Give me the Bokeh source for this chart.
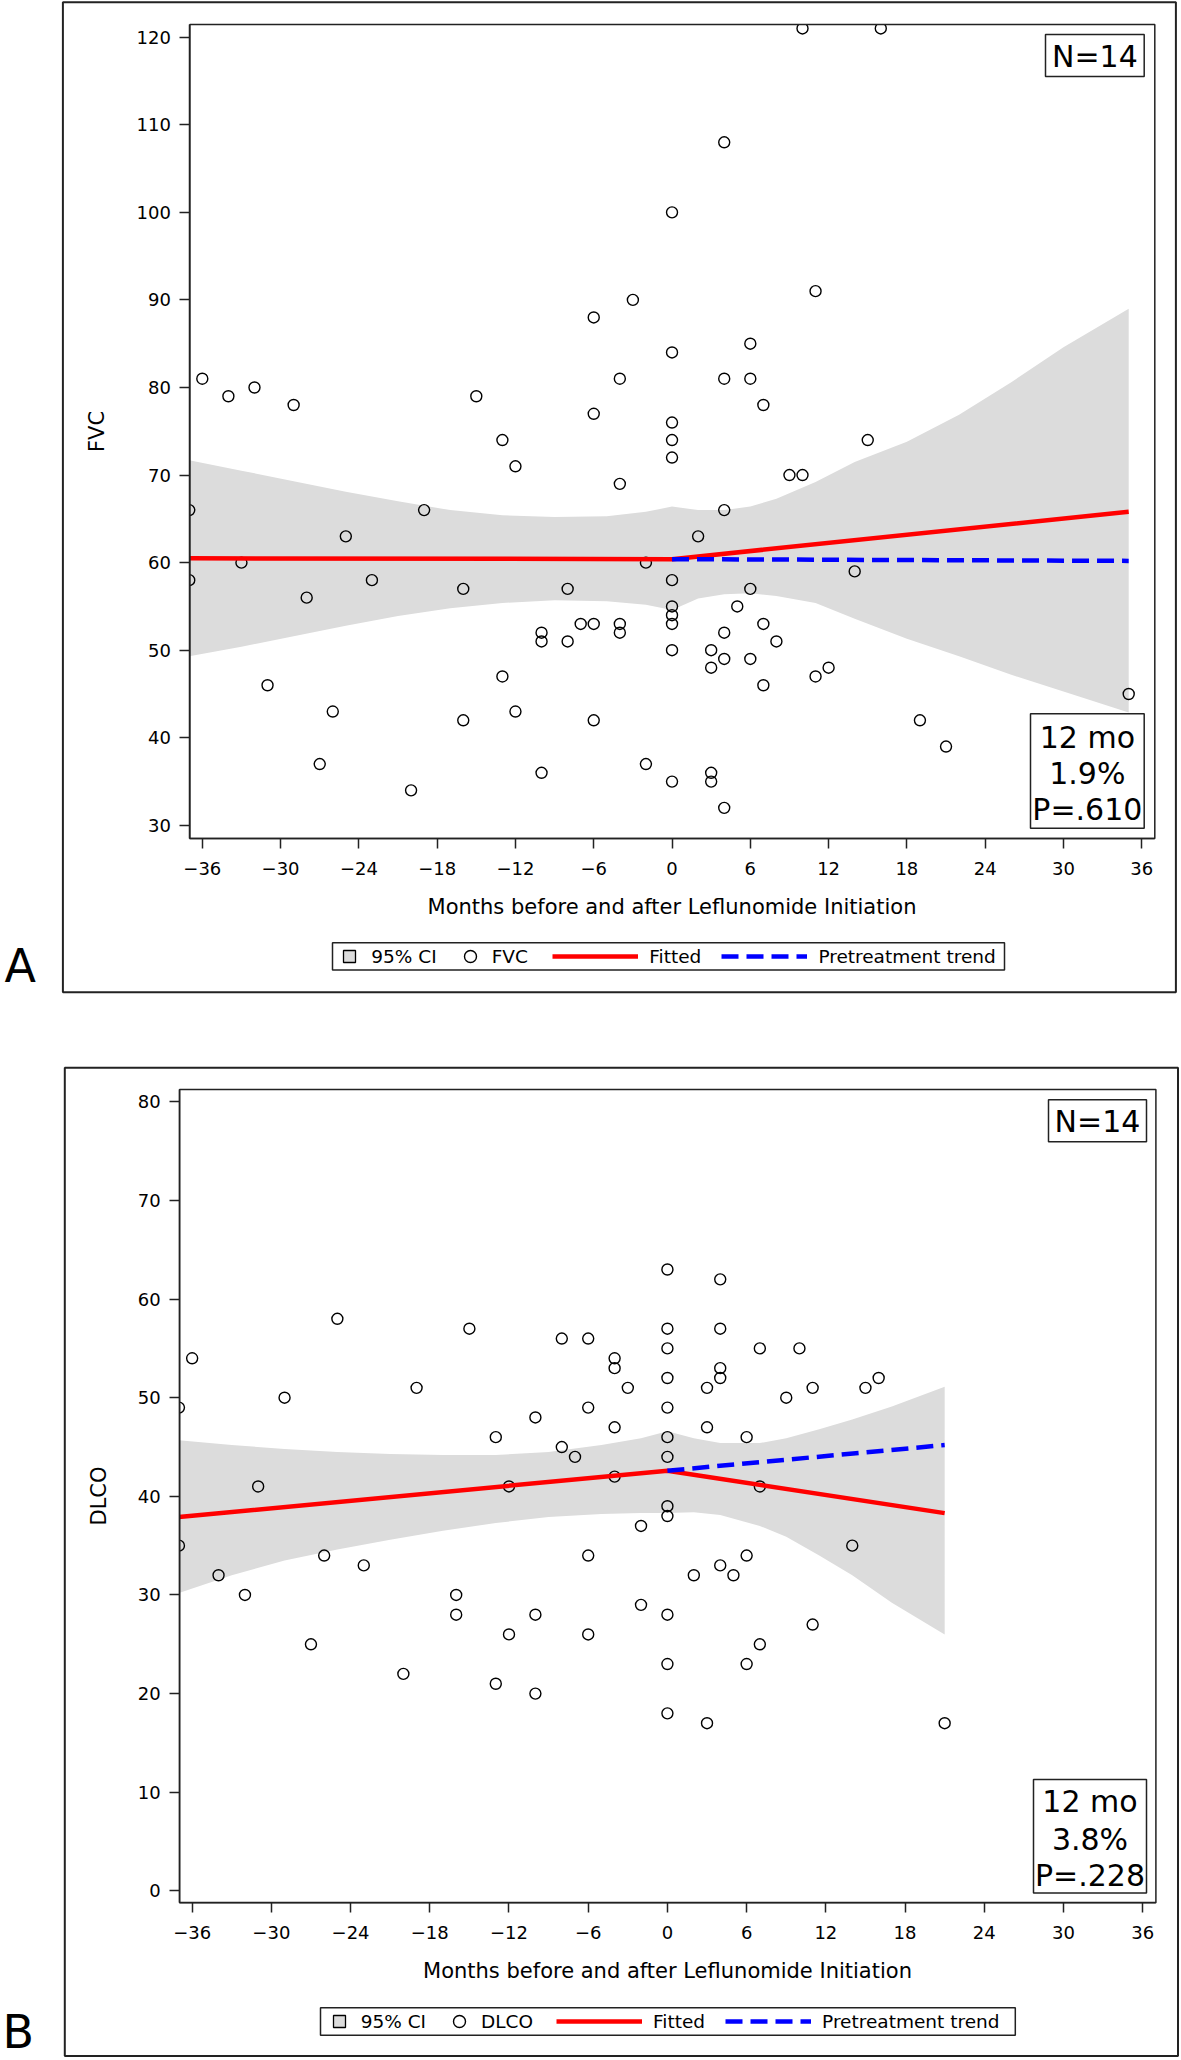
from bokeh.plotting import figure
from bokeh.models import Range1d, FixedTicker, Legend, LegendItem, Label, BoxAnnotation
from bokeh.layouts import column
from bokeh.embed import file_html
from bokeh.resources import INLINE

FONT = "DejaVu Sans"
INK = "#222222"
BAND = "#dcdcdc"

# ---------------- data ----------------
month_ticks = [-36, -30, -24, -18, -12, -6, 0, 6, 12, 18, 24, 30, 36]
fvc_ticks = [30, 40, 50, 60, 70, 80, 90, 100, 110, 120]
dlco_ticks = [0, 10, 20, 30, 40, 50, 60, 70, 80]

fvc_month = [-36, -34, -32, -29, -15, -13, -12, -6, -6, 10,
             16, 4, 0, 11, -3, 6, 0, -4, 4, 6,
             7, 0, 0, 15, 0, 9, 10, -4, -37, -37,
             -33, -25, -19, -28, -23, -16, -8, -7, -6, -10,
             -10, -8, -31, -13, -26, -12, -16, -6, -27, -10,
             -20, -4, -4, 4, 2, -2, 14, 0, 6, 5,
             0, 0, 0, 7, 4, 8, 0, 3, 4, 6,
             3, 12, 11, 7, 35, 19, 21, -2, 3, 3,
             0, 4]
fvc_value = [81, 79, 80, 78, 79, 74, 71, 88, 77, 121,
             121, 108, 100, 91, 90, 85, 84, 81, 81, 81,
             78, 76, 74, 74, 72, 70, 70, 69, 66, 58,
             60, 63, 66, 56, 58, 57, 57, 53, 53, 52,
             51, 51, 46, 47, 43, 43, 42, 42, 37, 36,
             34, 53, 52, 66, 63, 60, 59, 58, 57, 55,
             55, 54, 53, 53, 52, 51, 50, 50, 49, 49,
             48, 48, 47, 46, 45, 42, 39, 37, 36, 35,
             35, 32]

fvc_ci_month = [-37, -33, -29, -25, -21, -17, -13, -9, -5, -2, 0, 2, 4, 6, 8, 11, 14, 18, 22, 26, 30, 35]
fvc_ci_upper = [71.7, 70.5, 69.3, 68.1, 67.0, 66.0, 65.4, 65.2, 65.3, 65.8, 66.4, 66.0, 66.0, 66.4, 67.3, 69.2, 71.5, 73.8, 76.9, 80.6, 84.6, 89.0]
fvc_ci_lower = [49.3, 50.4, 51.6, 52.8, 53.9, 54.8, 55.4, 55.7, 55.6, 55.2, 54.6, 55.9, 56.4, 56.5, 56.2, 55.4, 53.6, 51.3, 49.3, 47.2, 45.3, 42.9]
fvc_fit_month = [-37, 0, 35]
fvc_fit = [60.5, 60.4, 65.8]
fvc_pre_month = [0, 35]
fvc_pre = [60.4, 60.2]

dlco_month = [-37, -36, -29, -25, -31, -19, -15, -8, -6, -6,
              -10, -13, -8, -7, -12, -37, -34, -32, -26, -23,
              -27, -20, -16, -16, -10, -12, -13, -10, -6, -6,
              0, 4, 0, 4, 0, 7, 10, -4, -4, 4,
              4, -3, 0, 3, 11, 15, 16, 9, 0, -4,
              3, 0, 6, 0, -4, 7, 0, 0, -2, 14,
              6, 4, 5, 2, -2, 0, 11, 7, 0, 6,
              0, 3, 21]
dlco_value = [49, 54, 50, 58, 41, 51, 57, 56, 56, 49,
              48, 46, 45, 44, 41, 35, 32, 30, 34, 33,
              25, 22, 30, 28, 28, 26, 21, 20, 34, 26,
              63, 62, 57, 57, 55, 55, 55, 54, 53, 53,
              52, 51, 52, 51, 51, 51, 52, 50, 49, 47,
              47, 46, 46, 44, 42, 41, 39, 38, 37, 35,
              34, 33, 32, 32, 29, 28, 27, 25, 23, 23,
              18, 17, 17]

dlco_ci_month = [-37, -33, -29, -25, -21, -17, -13, -9, -5, -2, 0, 2, 4, 7, 9, 11.5, 14, 17, 21]
dlco_ci_upper = [45.7, 45.2, 44.8, 44.5, 44.3, 44.2, 44.2, 44.5, 45.2, 45.9, 46.6, 45.9, 45.4, 45.4, 45.9, 46.8, 47.8, 49.1, 51.1]
dlco_ci_lower = [30.2, 32.0, 33.5, 34.6, 35.6, 36.5, 37.3, 37.9, 38.2, 38.3, 38.3, 38.4, 38.1, 37.0, 35.9, 34.0, 32.0, 29.2, 26.0]
dlco_fit_month = [-37, 0, 21]
dlco_fit = [37.9, 42.6, 38.3]
dlco_pre_month = [0, 21]
dlco_pre = [42.6, 45.2]

month_axis = (-36.95, 37.0)
fvc_axis = (28.5, 121.45)
dlco_axis = (-1.2, 81.25)

fvc_stats = ["12 mo", "1.9%", "P=.610"]
dlco_stats = ["12 mo", "3.8%", "P=.228"]
n_text = "N=14"
x_title = "Months before and after Leflunomide Initiation"

# ---------------- layout (canvas pixels, y downward) ----------------
W = 1181
GEOM_A = dict(H=1030, inner=(189.4, 1154.3, 24, 838), outer=(62.4, 1175.4, 1.7, 991.7),
              letter=(4, 981), lbox=(332, 1004, 942.3, 969.5), l1=334.3, l2=552.3, lcy=956,
              nbox=(1045, 1143.7, 34, 76), nbase=66,
              sbox=(1030, 1143.7, 713.3, 827.7), sbase=(746.7, 783.3, 819.3))
GEOM_B = dict(H=1030, inner=(179.1, 1155.4, 59, 872.2), outer=(64.3, 1177.5, 37.3, 1025.5),
              letter=(2, 1017), lbox=(320, 1014.8, 977.3, 1004.8), l1=323.7, l2=556, lcy=991,
              nbox=(1048, 1146, 69.3, 111.3), nbase=101.3,
              sbox=(1033, 1146, 749, 862.6), sbase=(781, 818.9, 855))


def build(letter, y_label, series_label, mx, my, cx, clo, chi, fx, fy, px, py,
          yr, yticks, stats, g):
    H = g["H"]
    x0, x1, y0, y1 = g["inner"]
    xa, xb = month_axis
    ya, yb = yr
    kx = (x1 - x0) / (xb - xa)
    ky = (y1 - y0) / (yb - ya)
    xs = xa - x0 / kx
    xe = xb + (W - x1) / kx
    ye = yb + y0 / ky
    ys = ya - (H - y1) / ky

    def xd(p_):
        return xs + p_ / kx

    def yd(p_):
        return ye - p_ / ky

    p = figure(width=W, height=H, output_backend="svg", toolbar_location=None,
               x_range=Range1d(xs, xe), y_range=Range1d(ys, ye),
               min_border=0, min_border_left=0, min_border_right=0,
               min_border_top=0, min_border_bottom=0)
    p.title.visible = False
    p.background_fill_color = "white"
    p.border_fill_color = "white"
    p.outline_line_color = None
    p.xgrid.visible = False
    p.ygrid.visible = False
    for ax in (p.xaxis[0], p.yaxis[0]):
        ax.level = "overlay"
        ax.axis_line_color = INK
        ax.axis_line_width = 1.5
        ax.major_tick_line_color = INK
        ax.major_tick_line_width = 1.5
        ax.major_tick_out = 10
        ax.major_tick_in = 0
        ax.minor_tick_line_color = None
        ax.major_label_text_font = FONT
        ax.major_label_text_font_size = "18px"
        ax.major_label_text_color = "black"
        ax.axis_label_text_font = FONT
        ax.axis_label_text_font_size = "21px"
        ax.axis_label_text_font_style = "normal"
        ax.axis_label_text_color = "black"
    p.xaxis.ticker = FixedTicker(ticks=month_ticks)
    p.yaxis.ticker = FixedTicker(ticks=yticks)
    p.xaxis.fixed_location = ya
    p.yaxis.fixed_location = xa
    p.xaxis.bounds = (xa, xb)
    p.yaxis.bounds = (ya, yb)
    p.xaxis.axis_label = x_title
    p.yaxis.axis_label = y_label
    p.xaxis.major_label_standoff = 13
    p.xaxis.axis_label_standoff = 17
    p.yaxis.major_label_standoff = 9
    p.yaxis.axis_label_standoff = 24

    p.varea(x=cx, y1=clo, y2=chi, fill_color=BAND, fill_alpha=1)
    pts = p.scatter(mx, my, marker="circle", size=11, fill_color=None,
                    line_color="black", line_width=1.4)
    fit = p.line(fx, fy, line_color="#ff0000", line_width=4.5)
    pre = p.line(px, py, line_color="#0000ff", line_width=4.5, line_dash="17 8")
    # legend-only swatch for the confidence band (NaN position: never drawn in the plot)
    sq = p.scatter(x=[float("nan")], y=[float("nan")], marker="square", size=12,
                   fill_color=BAND, line_color="black", line_width=1.3)

    def box(l, r, t, b, fill=None, lw=1.5, line=INK):
        kw = dict(left=xd(l), right=xd(r), top=yd(t), bottom=yd(b),
                  line_color=line, line_width=lw, line_alpha=1)
        if fill is None:
            kw.update(fill_alpha=0)
        else:
            kw.update(fill_color=fill, fill_alpha=1)
        p.add_layout(BoxAnnotation(**kw))

    def label(xpx, base_px, text, size, align="center"):
        adj = size / 3.0
        p.add_layout(Label(x=xd(xpx), y=yd(base_px - adj), text=text,
                           text_font=FONT, text_font_size="%gpx" % size, text_color="black",
                           text_align=align, text_baseline="alphabetic"))

    # white margins that trim marks overflowing the plot area (left and top)
    box(x0 - 9, x0, y0, y1, fill="white", lw=0, line=None)
    box(x0 - 9, x1, y0 - 9, y0, fill="white", lw=0, line=None)
    # inner plot frame (drawn along the axis scales)
    p.add_layout(BoxAnnotation(left=xa, right=xb, bottom=ya, top=yb, fill_alpha=0,
                               line_color=INK, line_width=1.5, line_alpha=1))
    # outer panel box
    o = g["outer"]
    box(o[0], o[1], o[2], o[3], lw=2)
    # panel letter
    label(g["letter"][0], g["letter"][1], letter, 46, align="left")

    # N box
    nb = g["nbox"]
    box(nb[0], nb[1], nb[2], nb[3], fill="white")
    label((nb[0] + nb[1]) / 2, g["nbase"], n_text, 30)
    # stats box
    sb = g["sbox"]
    box(sb[0], sb[1], sb[2], sb[3], fill="white")
    for txt, base in zip(stats, g["sbase"]):
        label((sb[0] + sb[1]) / 2, base, txt, 30)

    # legend
    lb = g["lbox"]
    box(lb[0], lb[1], lb[2], lb[3])
    common = dict(orientation="horizontal", padding=0, margin=0,
                  border_line_alpha=0, background_fill_alpha=0,
                  label_text_font=FONT, label_text_font_size="18.5px",
                  label_text_color="black", glyph_height=30)
    l1 = Legend(items=[LegendItem(label="95% CI", renderers=[sq]),
                       LegendItem(label=series_label, renderers=[pts])],
                location=(g["l1"], H - (g["lcy"] + 15)),
                glyph_width=30, label_standoff=7, spacing=18, **common)
    l2 = Legend(items=[LegendItem(label="Fitted", renderers=[fit]),
                       LegendItem(label="Pretreatment trend", renderers=[pre])],
                location=(g["l2"], H - (g["lcy"] + 15)),
                glyph_width=86, label_standoff=11, spacing=20, **common)
    p.add_layout(l1)
    p.add_layout(l2)
    return p


pa = build("A", "FVC", "FVC", fvc_month, fvc_value, fvc_ci_month, fvc_ci_lower, fvc_ci_upper,
           fvc_fit_month, fvc_fit, fvc_pre_month, fvc_pre, fvc_axis, fvc_ticks,
           fvc_stats, GEOM_A)
pb = build("B", "DLCO", "DLCO", dlco_month, dlco_value, dlco_ci_month, dlco_ci_lower, dlco_ci_upper,
           dlco_fit_month, dlco_fit, dlco_pre_month, dlco_pre, dlco_axis, dlco_ticks,
           dlco_stats, GEOM_B)

layout = column(pa, pb, spacing=0)
open("out.html", "w").write(file_html(layout, INLINE))
